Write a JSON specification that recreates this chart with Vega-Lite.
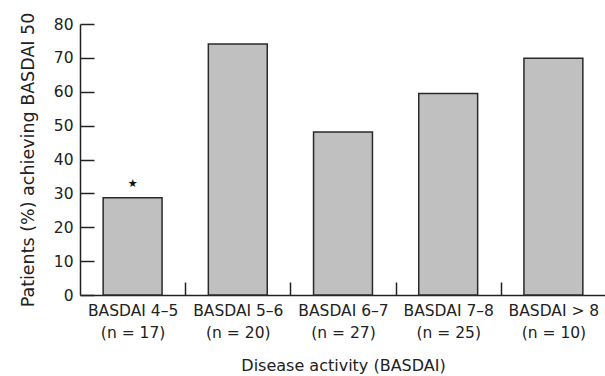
{
  "$schema": "https://vega.github.io/schema/vega-lite/v6.json",
  "width": 526,
  "height": 271,
  "autosize": "none",
  "padding": {"left": 80, "top": 24, "right": 0, "bottom": 81},
  "background": "white",
  "config": {
    "view": {"stroke": null},
    "font": "DejaVu Sans",
    "axis": {"grid": false, "domainColor": "#222", "domainWidth": 1.5, "tickColor": "#222", "tickWidth": 1.5, "labelColor": "#222", "titleColor": "#222", "labelFont": "DejaVu Sans", "titleFont": "DejaVu Sans", "titleFontWeight": "normal"}
  },
  "data": {
    "values": [
      {"group": "BASDAI 4–5|(n = 17)", "pct": 28.7, "note": "★"},
      {"group": "BASDAI 5–6|(n = 20)", "pct": 74.1, "note": ""},
      {"group": "BASDAI 6–7|(n = 27)", "pct": 48.1, "note": ""},
      {"group": "BASDAI 7–8|(n = 25)", "pct": 59.5, "note": ""},
      {"group": "BASDAI > 8|(n = 10)", "pct": 69.9, "note": ""}
    ]
  },
  "encoding": {
    "x": {
      "field": "group", "type": "nominal", "sort": null,
      "scale": {"paddingInner": 0.44, "paddingOuter": 0.22},
      "axis": {
        "title": "Disease activity (BASDAI)", "labelAngle": 0,
        "labelExpr": "split(datum.label, '|')",
        "labelFontSize": 15.5, "labelLineHeight": 22, "labelPadding": 21,
        "tickSize": -13, "tickOffset": 52.6, "labelOffset": -52.6,
        "titleFontSize": 16, "titlePadding": 17
      }
    },
    "y": {
      "field": "pct", "type": "quantitative",
      "scale": {"domain": [0, 80], "nice": false},
      "axis": {
        "title": "Patients (%) achieving BASDAI 50",
        "values": [0, 10, 20, 30, 40, 50, 60, 70, 80],
        "tickSize": -14, "labelPadding": 21, "labelFontSize": 15.5,
        "titleFontSize": 17.5, "titlePadding": 16
      }
    }
  },
  "layer": [
    {"mark": {"type": "bar", "fill": "#c0c0c0", "stroke": "#2a2a2a", "strokeWidth": 1.5}},
    {"mark": {"type": "text", "dy": -14, "fontSize": 11, "color": "#111"}, "encoding": {"text": {"field": "note"}}}
  ]
}
